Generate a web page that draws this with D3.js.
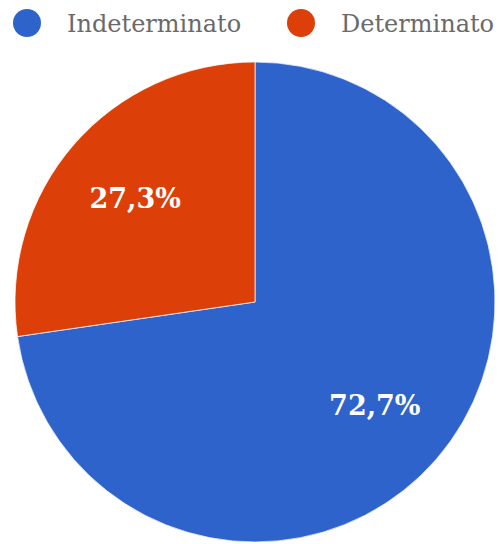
<!DOCTYPE html>
<html><head><meta charset="utf-8">
<script src="https://cdn.jsdelivr.net/npm/d3@7"></script>
<style>body{margin:0;background:#fff}</style>
</head><body>
<svg id="c" width="501" height="544"></svg>
<script>
const categories = ["Indeterminato", "Determinato"];
const values = [72.7, 27.3];
const labels = ["72,7%", "27,3%"];
const colors = ["#2f63cc", "#dc3f08"];

const svg = d3.select("#c");
const cx = 255, cy = 302, r = 240;
const pie = d3.pie().sort(null).value(d => d)(values);
const arc = d3.arc().innerRadius(0).outerRadius(r);
const g = svg.append("g").attr("transform", `translate(${cx},${cy})`);
g.selectAll("path").data(pie).join("path")
  .attr("d", arc).attr("fill", (d,i) => colors[i])
  .attr("stroke", "#fff").attr("stroke-width", 0.7);
const lab = d3.arc().innerRadius(r*0.66).outerRadius(r*0.66);
g.selectAll("text").data(pie).join("text")
  .attr("transform", d => `translate(${lab.centroid(d)})`)
  .attr("text-anchor", "middle").attr("dy", "0.36em")
  .attr("fill", "#fff").attr("font-family", "DejaVu Serif")
  .attr("font-size", 27).attr("font-weight", "bold")
  .text((d,i) => labels[i]);

const leg = svg.append("g");
const lx = [27, 301];
categories.forEach((c,i) => {
  leg.append("circle").attr("cx", lx[i]).attr("cy", 23).attr("r", 14).attr("fill", colors[i]);
  leg.append("text").attr("x", lx[i]+40).attr("y", 32)
    .attr("font-family", "DejaVu Serif").attr("font-size", 24)
    .attr("fill", "#6a6a6a").text(c);
});
</script>
</body></html>
